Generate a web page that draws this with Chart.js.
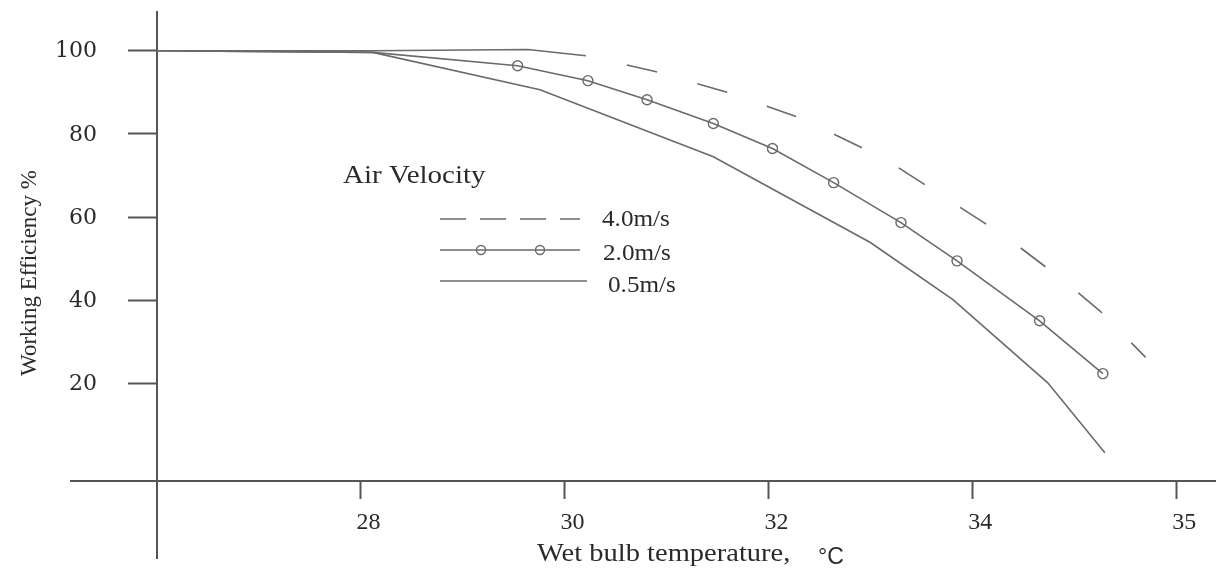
<!DOCTYPE html>
<html>
<head>
<meta charset="utf-8">
<script src="https://cdn.jsdelivr.net/npm/chart.js@4.4.1/dist/chart.umd.min.js"></script>
<style>
  html, body { margin: 0; padding: 0; background: #fff; }
  #wrap { width: 1216px; height: 571px; }
</style>
</head>
<body>
<div id="wrap"><canvas id="chart"></canvas></div>
<script>
// wet bulb temperature (deg C) against working efficiency (%), one pair per air velocity
const temp40 = [26.0, 28.12, 29.64, 30.21, 30.89, 31.61, 32.33, 33.14, 33.72, 34.34, 34.91, 35.25, 35.70];
const eff40 = [100, 100, 100.3, 98.8, 95.0, 89.9, 83.7, 74.0, 64.9, 55.1, 44.5, 37.5, 26.3];
const temp20 = [26.0, 28.12, 29.54, 30.23, 30.81, 31.46, 32.04, 32.64, 33.30, 33.85, 34.66, 35.28];
const eff20 = [100, 99.6, 96.4, 92.8, 88.2, 82.5, 76.5, 68.3, 58.7, 49.5, 35.1, 22.4];
const temp05 = [26.0, 28.12, 29.76, 31.46, 33.0, 33.81, 34.74, 35.30];
const eff05 = [100, 99.6, 90.6, 74.5, 53.9, 40.2, 20.2, 3.4];

const seriesLabels = ["4.0m/s", "2.0m/s", "0.5m/s"];
const legendTitle = "Air Velocity";
const xTickValues = [28, 30, 32, 34, 36];
const xTickLabels = ["28", "30", "32", "34", "35"];
const yTickValues = [20, 40, 60, 80, 100];
const xTitle = "Wet bulb temperature,";
const xUnit = "\u00B0C";
const yTitle = "Working Efficiency %";

const lineColor = "#6a6a6a";
const axisColor = "#555";
const textColor = "#2a2a2a";

function pts(xs, ys) {
  return xs.map((x, i) => ({ x: x, y: ys[i] }));
}

// wide serif text, the reference looks stretched sideways
function wideText(ctx, text, x, y, font, sx) {
  ctx.save();
  ctx.translate(x, y);
  ctx.scale(sx, 1);
  ctx.font = font;
  ctx.fillText(text, 0, 0);
  ctx.restore();
}

// positioned axes still reserve label padding, drop it
function noPad(s) {
  s.paddingTop = 0;
  s.paddingBottom = 0;
  s.paddingLeft = 0;
  s.paddingRight = 0;
}

const annotate = {
  id: "annotate",
  afterDraw(chart) {
    const ctx = chart.ctx;
    const ds = chart.data.datasets;
    const yScale = chart.scales.y;
    ctx.save();
    ctx.fillStyle = textColor;

    // y tick labels, set well left of the axis like the original
    ctx.textAlign = "right";
    ctx.textBaseline = "middle";
    ctx.font = '22px "DejaVu Serif"';
    yScale.ticks.forEach((t) => {
      ctx.fillText(String(t.value), 97, yScale.getPixelForValue(t.value) + 1);
    });

    ctx.textBaseline = "alphabetic";
    ctx.textAlign = "left";

    // y title
    ctx.save();
    ctx.translate(36, 273);
    ctx.rotate(-Math.PI / 2);
    ctx.textAlign = "center";
    ctx.font = '23px "Liberation Serif"';
    ctx.fillText(yTitle, 0, 0);
    ctx.restore();

    // x title
    wideText(ctx, xTitle, 537, 561, '25px "Liberation Serif"', 1.14);
    ctx.font = '23px "Liberation Sans"';
    ctx.fillText(xUnit, 818, 564);

    // legend
    wideText(ctx, legendTitle, 343, 183, '25px "Liberation Serif"', 1.16);
    const rows = [219, 250, 281];
    const textBase = [226, 260, 292];
    const textLeft = [602, 603, 608];
    rows.forEach((y, i) => {
      const d = ds[i];
      ctx.save();
      ctx.strokeStyle = d.borderColor;
      ctx.lineWidth = d.borderWidth;
      ctx.setLineDash(i === 0 ? [26, 14] : []);
      ctx.beginPath();
      ctx.moveTo(440, y);
      ctx.lineTo(i === 2 ? 587 : 580, y);
      ctx.stroke();
      ctx.restore();
      if (i === 1) {
        [481, 540].forEach((mx) => {
          ctx.beginPath();
          ctx.arc(mx, y, 4.5, 0, Math.PI * 2);
          ctx.strokeStyle = d.borderColor;
          ctx.lineWidth = 1.4;
          ctx.stroke();
        });
      }
      wideText(ctx, d.label, textLeft[i], textBase[i], '24px "Liberation Serif"', 1.05);
    });
    ctx.restore();
  },
};

new Chart(document.getElementById("chart"), {
  type: "line",
  data: {
    datasets: [
      {
        label: seriesLabels[0],
        data: pts(temp40, eff40),
        borderColor: lineColor,
        borderWidth: 1.6,
        pointRadius: 0,
        // solid along the top, dashed once it starts to fall
        segment: {
          borderDash: (c) => (c.p0DataIndex >= 3 ? [31, 42] : undefined),
          borderDashOffset: (c) => (c.p0DataIndex >= 3 ? 31 : undefined),
        },
      },
      {
        label: seriesLabels[1],
        data: pts(temp20, eff20),
        borderColor: lineColor,
        borderWidth: 1.6,
        pointRadius: (c) => (c.dataIndex >= 2 ? 5 : 0),
        pointBorderWidth: 1.4,
        pointBorderColor: lineColor,
        pointBackgroundColor: "rgba(0,0,0,0)",
      },
      {
        label: seriesLabels[2],
        data: pts(temp05, eff05),
        borderColor: lineColor,
        borderWidth: 1.6,
        pointRadius: 0,
      },
    ],
  },
  options: {
    responsive: true,
    maintainAspectRatio: false,
    animation: false,
    layout: { autoPadding: false, padding: { left: 71, top: 12, right: 0, bottom: 13 } },
    plugins: {
      legend: { display: false },
      tooltip: { enabled: false },
    },
    scales: {
      x: {
        type: "linear",
        min: 25.16,
        max: 36.39,
        position: { y: -3.3 },
        afterBuildTicks: (s) => {
          s.ticks = xTickValues.map((v) => ({ value: v }));
        },
        afterFit: noPad,
        grid: { drawOnChartArea: false, tickLength: 17, tickWidth: 2, tickColor: axisColor },
        border: { color: axisColor, width: 2 },
        ticks: {
          callback: (v, i) => xTickLabels[i],
          font: { family: "Liberation Serif", size: 24 },
          color: textColor,
          padding: 11,
          labelOffset: 8,
          maxRotation: 0,
          autoSkip: false,
        },
      },
      y: {
        type: "linear",
        min: -21.9,
        max: 109.3,
        position: { x: 26 },
        afterBuildTicks: (s) => {
          s.ticks = yTickValues.map((v) => ({ value: v }));
        },
        afterFit: noPad,
        grid: { drawOnChartArea: false, tickLength: 28, tickWidth: 2, tickColor: axisColor },
        border: { color: axisColor, width: 2 },
        ticks: { display: false },
      },
    },
  },
  plugins: [annotate],
});
</script>
</body>
</html>
